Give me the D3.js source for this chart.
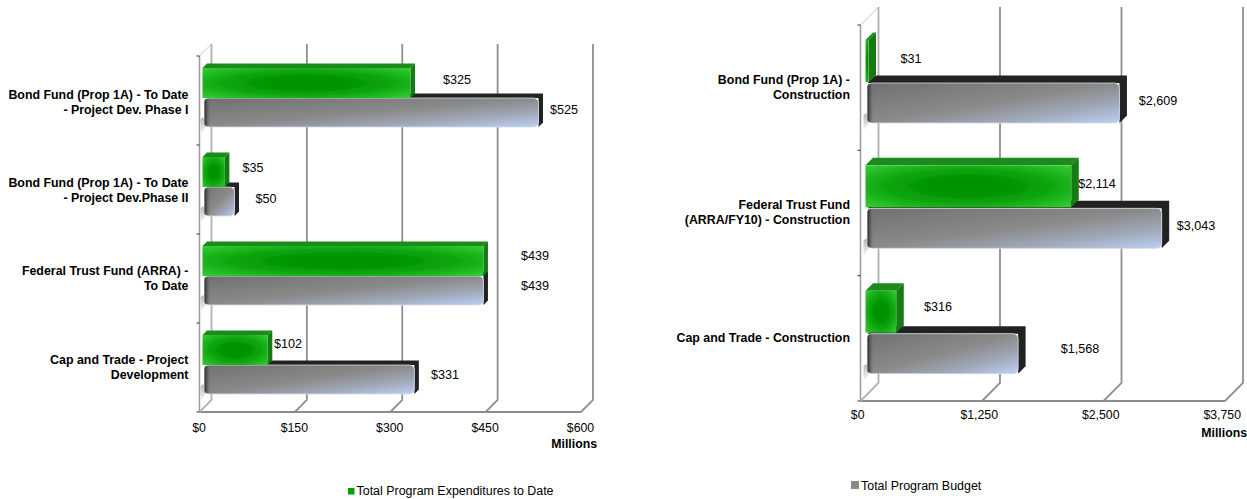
<!DOCTYPE html>
<html><head><meta charset="utf-8">
<script src="https://cdn.jsdelivr.net/npm/d3@7"></script>
<style>html,body{margin:0;padding:0;background:#fff}svg{display:block}text{font-family:"Liberation Sans",Arial,sans-serif;fill:#000}</style>
</head><body><svg id="c" width="1247" height="499"></svg>
<script>
const leftCategories=[["Bond Fund (Prop 1A) - To Date","- Project Dev. Phase I"],["Bond Fund (Prop 1A) - To Date","- Project Dev.Phase II"],["Federal Trust Fund (ARRA) -","To Date"],["Cap and Trade - Project","Development"]];
const leftExpenditures=[325,35,439,102];
const leftBudget=[525,50,439,331];
const leftTicks=[0,150,300,450,600];
const rightCategories=[["Bond Fund (Prop 1A) -","Construction"],["Federal Trust Fund","(ARRA/FY10) - Construction"],["Cap and Trade - Construction"]];
const rightExpenditures=[31,2114,316];
const rightBudget=[2609,3043,1568];
const rightTicks=[0,1250,2500,3750];
const fmt=d3.format("$,");
const svg=d3.select("#c");
const defs=svg.append("defs");
defs.append("filter").attr("id","soft").attr("x","-5%").attr("y","-5%").attr("width","110%").attr("height","110%")
  .append("feGaussianBlur").attr("stdDeviation",0.5);
const rg=defs.append("radialGradient").attr("id","green").attr("r",0.72);
[[0,"#008f00"],[0.3,"#029502"],[0.55,"#0da50d"],[0.75,"#20b820"],[1,"#38d038"]].forEach(s=>rg.append("stop").attr("offset",s[0]).attr("stop-color",s[1]));
const lg=defs.append("linearGradient").attr("id","grey").attr("x1",0).attr("y1",0).attr("x2",1).attr("y2",1);
[[0,"#707070"],[0.5,"#8a8a8a"],[0.75,"#a0a8b8"],[1,"#bccff5"]].forEach(s=>lg.append("stop").attr("offset",s[0]).attr("stop-color",s[1]));
const sh=defs.append("linearGradient").attr("id","shade").attr("x1",0).attr("y1",0).attr("x2",0).attr("y2",1);
[[0,"#b5b5b5"],[1,"#ffffff"]].forEach(s=>sh.append("stop").attr("offset",s[0]).attr("stop-color",s[1]));
const edge=defs.append("linearGradient").attr("id","edge").attr("x1",0).attr("y1",0).attr("x2",1).attr("y2",0);
[[0,"#262626"],[1,"rgba(110,110,110,0)"]].forEach(s=>edge.append("stop").attr("offset",s[0]).attr("stop-color",s[1]));

function chart(o){
  const x=d3.scaleLinear().domain(d3.extent(o.ticks)).range(o.xRange);
  const w=d3.scaleLinear().domain(d3.extent(o.ticks)).range([0,o.barSpan]);
  const y=d3.scaleBand().domain(d3.range(o.cats.length)).range(o.yRange);
  const d=o.wall, g=svg.append("g");
  const marks=g.append("g").attr("filter","url(#soft)");
  const [top,bot]=o.yRange, x0=o.xRange[0];
  marks.append("path").attr("d",`M${x0},${top}L${x0+d},${top-d}`).attr("stroke","#c4c4c4").attr("fill","none");
  marks.append("path").attr("d",`M${x0},${top}V${bot}`).attr("stroke","#9a9a9a").attr("stroke-width",1.5).attr("fill","none");
  marks.append("path").attr("d",`M${x0},${bot}H${o.xRange[1]}`).attr("stroke","#8c8c8c").attr("stroke-width",2).attr("fill","none");
  o.ticks.forEach((t,i)=>{
    const tx=x(t);
    marks.append("path").attr("d",`M${tx},${bot}L${tx+d},${bot-d}V${top-d}`).attr("fill","none")
      .attr("stroke",i?"#8f8f8f":"#b0b0b0").attr("stroke-width",1.8);
    g.append("text").attr("x",tx+o.tickDx).attr("y",bot+o.tickDy).attr("text-anchor","middle").attr("font-size",12.3).text(fmt(t));
  });
  d3.range(o.cats.length+1).forEach(i=>{
    const ty=top+i*y.step();
    marks.append("path").attr("d",`M${x0-3},${ty}H${x0}`).attr("stroke","#333");
  });
  o.cats.forEach((c,i)=>{
    const b=y(i), q=o.bar, L=x0+q.left;
    const gTop=b+q.greenTop, gBot=gTop+q.greenH, kTop=gBot+q.gap, kBot=kTop+q.greyH;
    const gr=L+w(o.exp[i]), kr=L+w(o.bud[i]), e=q.depth;
    marks.append("path").attr("d",`M${L+3},${kBot}L${L-2},${kBot+q.shadow}V${kBot-8}L${L+1},${kBot-10}Z`).attr("fill","url(#shade)");
    marks.append("path").attr("d",`M${L+2},${kTop}L${L+2+e},${kTop-e}H${kr+e}V${kBot-e}L${kr},${kBot}V${kTop}Z`).attr("fill","#222");
    marks.append("rect").attr("x",L+2).attr("y",kTop).attr("width",kr-L-2).attr("height",kBot-kTop).attr("rx",5)
      .attr("fill","url(#grey)").attr("stroke","#d3dae8").attr("stroke-width",0.8);
    marks.append("rect").attr("x",L+2).attr("y",kTop+0.5).attr("width",6).attr("height",kBot-kTop-1).attr("rx",3).attr("fill","url(#edge)");
    marks.append("path").attr("d",`M${L},${gTop}L${L+e},${gTop-e}H${gr+e}L${gr},${gTop}Z`).attr("fill","#1c8a1c");
    marks.append("path").attr("d",`M${gr},${gTop}L${gr+e},${gTop-e}V${gBot-e}L${gr},${gBot}Z`).attr("fill","#137a13");
    marks.append("rect").attr("x",L).attr("y",gTop).attr("width",gr-L).attr("height",gBot-gTop).attr("fill","url(#green)");
    g.append("text").attr("x",o.labExpX[i]).attr("y",o.labExpY[i]).attr("text-anchor","middle").attr("font-size",12.6).text(fmt(o.exp[i]));
    g.append("text").attr("x",o.labBudX[i]).attr("y",o.labBudY[i]).attr("text-anchor","middle").attr("font-size",12.6).text(fmt(o.bud[i]));
    const cy=o.catY[i];
    c.forEach((ln,j)=>g.append("text").attr("x",o.catRight).attr("y",cy+j*o.catLead).attr("text-anchor","end")
      .attr("font-size",12.4).attr("font-weight","bold").text(ln));
  });
  g.append("text").attr("x",o.unitX).attr("y",bot+o.unitDy).attr("text-anchor","end").attr("font-size",12.3).attr("font-weight","bold").text("Millions");
  marks.append("rect").attr("x",o.legend.x).attr("y",o.legend.y).attr("width",o.legend.s).attr("height",o.legend.s).attr("fill",o.legend.fill);
  g.append("text").attr("x",o.legend.x+o.legend.s+2).attr("y",o.legend.y+o.legend.s+0.5).attr("font-size",o.legend.fs).text(o.legend.text);
}
chart({cats:leftCategories,exp:leftExpenditures,bud:leftBudget,ticks:leftTicks,
  xRange:[199.5,581],barSpan:384,yRange:[56,412],wall:12,tickDx:-0.5,tickDy:20,
  bar:{left:3,greenTop:12,greenH:30,gap:0,greyH:29,depth:4.5,shadow:8},
  labExpX:[457,253,535,288],labExpY:[84,172,260,348],
  labBudX:[564,266,535,445],labBudY:[114,203,290,379],
  catRight:188.5,catY:[99,187,275,364],catLead:14.5,unitX:597,unitDy:36,
  legend:{x:348,y:488,s:6.5,fill:"#00a000",fs:12.45,text:"Total Program Expenditures to Date"}});
chart({cats:rightCategories,exp:rightExpenditures,bud:rightBudget,ticks:rightTicks,
  xRange:[860.5,1225],barSpan:365,yRange:[25,401],wall:18,tickDx:-2.8,tickDy:17.5,
  bar:{left:5,greenTop:15,greenH:42,gap:1,greyH:40,depth:7.5,shadow:9},
  labExpX:[911,1097,938],labExpY:[63,188,311],
  labBudX:[1158,1196,1080],labBudY:[105,230,353],
  catRight:850,catY:[84,209,342],catLead:15,unitX:1247,unitDy:36,
  legend:{x:851,y:481,s:8,fill:"#8a8a8a",fs:12.45,text:"Total Program Budget"}});
</script></body></html>
